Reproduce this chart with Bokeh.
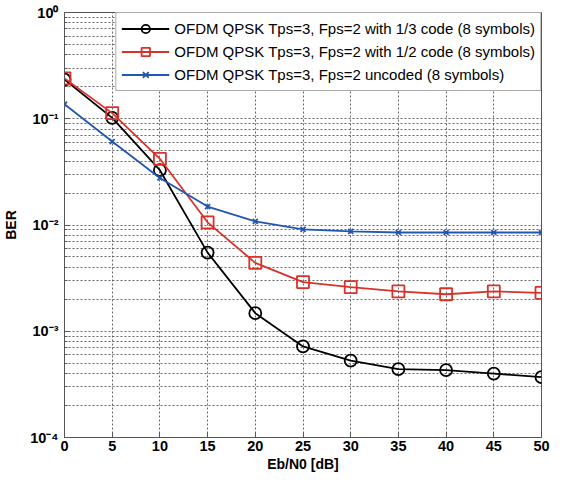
from bokeh.plotting import figure
from bokeh.models import FixedTicker, Range1d, Legend, LegendItem
from bokeh.embed import file_html
from bokeh.resources import INLINE

ebn0 = [0, 5, 10, 15, 20, 25, 30, 35, 40, 45, 50]
ber_13 = [0.234, 0.102, 0.0328, 0.0055, 0.00148, 0.00072, 0.00053, 0.00044, 0.00043, 0.0004, 0.00037]
ber_12 = [0.24, 0.113, 0.042, 0.0106, 0.0044, 0.0029, 0.0026, 0.00237, 0.00223, 0.00237, 0.0023]
ber_unc = [0.137, 0.061, 0.0277, 0.0149, 0.0108, 0.0091, 0.0087, 0.0085, 0.0085, 0.0085, 0.0085]

labels = [
    "OFDM QPSK Tps=3, Fps=2 with 1/3 code (8 symbols)",
    "OFDM QPSK Tps=3, Fps=2 with 1/2 code (8 symbols)",
    "OFDM QPSK Tps=3, Fps=2 uncoded (8 symbols)",
]
x_ticks = [0, 5, 10, 15, 20, 25, 30, 35, 40, 45, 50]
y_major = [1e-4, 1e-3, 1e-2, 1e-1, 1e0]
y_major_labels = ["10\u207b\u2074", "10\u207b\u00b3", "10\u207b\u00b2", "10\u207b\u00b9", "10\u2070"]
y_minor = [m * 10.0 ** e for e in (-4, -3, -2, -1) for m in range(2, 10)]

FONT = "Liberation Sans"

p = figure(width=550, height=477, y_axis_type="log", output_backend="svg",
           toolbar_location=None, x_range=Range1d(0, 50), y_range=Range1d(1e-4, 1),
           min_border_left=54, min_border_right=9, min_border_top=12, min_border_bottom=40)
p.background_fill_color = "white"
p.border_fill_color = "white"
p.outline_line_color = "#555555"
p.outline_line_width = 1

# axes
p.xaxis.ticker = FixedTicker(ticks=x_ticks)
p.yaxis.ticker = FixedTicker(ticks=y_major, minor_ticks=y_minor)
p.yaxis.major_label_overrides = {t: l for t, l in zip(y_major, y_major_labels)}
for ax in (p.xaxis[0], p.yaxis[0]):
    ax.major_label_text_font = FONT
    ax.major_label_text_font_style = "bold"
    ax.major_label_text_font_size = "14.5px"
    ax.major_label_text_color = "black"
    ax.axis_label_text_font = FONT
    ax.axis_label_text_font_style = "bold"
    ax.axis_label_text_font_size = "14px"
    ax.axis_label_text_color = "black"
    ax.axis_line_color = "#555555"
    ax.major_tick_in = 5
    ax.major_tick_out = 0
    ax.minor_tick_in = 3
    ax.minor_tick_out = 0
    ax.major_tick_line_color = "#555555"
    ax.minor_tick_line_color = "#555555"
p.xaxis.axis_label = "Eb/N0 [dB]"
p.yaxis.axis_label = "BER"
p.xaxis.major_label_standoff = 3
p.xaxis.axis_label_standoff = 2
p.yaxis.major_label_standoff = 6
p.yaxis.axis_label_standoff = 8

# grid
p.xgrid.ticker = FixedTicker(ticks=x_ticks)
p.ygrid.ticker = FixedTicker(ticks=y_major, minor_ticks=y_minor)
for g in (p.xgrid[0], p.ygrid[0]):
    g.grid_line_color = "#666666"
    g.grid_line_dash = "2 2"
    g.grid_line_width = 1
p.ygrid.minor_grid_line_color = "#666666"
p.ygrid.minor_grid_line_dash = "2 2"
p.ygrid.minor_grid_line_width = 1

BLACK = "#000000"
RED = "#d8322b"
BLUE = "#2356b0"

l1 = p.line(ebn0, ber_13, line_color=BLACK, line_width=1.8)
m1 = p.scatter(ebn0, ber_13, marker="circle", size=12, fill_color=None, line_color=BLACK, line_width=1.8)
l2 = p.line(ebn0, ber_12, line_color=RED, line_width=1.8)
m2 = p.scatter(ebn0, ber_12, marker="square", size=12, fill_color=None, line_color=RED, line_width=1.8)
l3 = p.line(ebn0, ber_unc, line_color=BLUE, line_width=1.8)
m3 = p.scatter(ebn0, ber_unc, marker="x", size=7, line_color=BLUE, line_width=1.8)

legend = Legend(items=[LegendItem(label=labels[0], renderers=[l1, m1]),
                       LegendItem(label=labels[1], renderers=[l2, m2]),
                       LegendItem(label=labels[2], renderers=[l3, m3])],
                location="top_right")
legend.margin = 0
legend.padding = 5
legend.spacing = 2
legend.glyph_width = 48
legend.glyph_height = 21
legend.label_height = 21
legend.label_standoff = 5
legend.label_text_font = FONT
legend.label_text_font_size = "15px"
legend.label_text_color = "black"
legend.border_line_color = "#555555"
legend.border_line_width = 1
legend.background_fill_color = "white"
legend.background_fill_alpha = 1.0
p.add_layout(legend)

open("out.html", "w").write(file_html(p, INLINE))
